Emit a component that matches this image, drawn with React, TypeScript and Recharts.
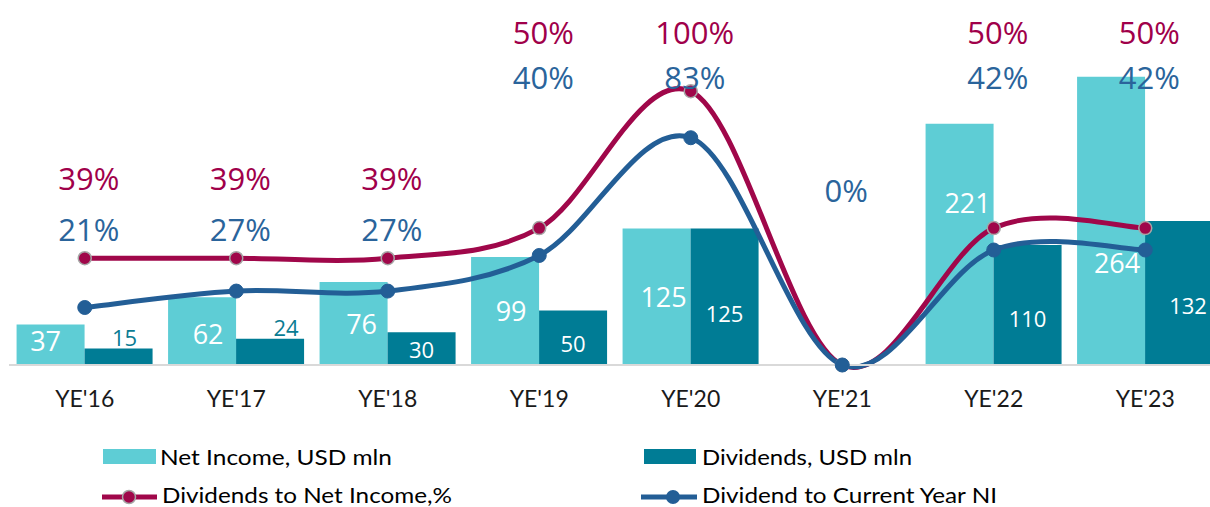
import React from 'react';
import { ComposedChart, Bar, Line, XAxis, YAxis, LabelList, Legend } from 'recharts';

const years = ["YE'16", "YE'17", "YE'18", "YE'19", "YE'20", "YE'21", "YE'22", "YE'23"];
const netIncome: (number | null)[] = [37, 62, 76, 99, 125, null, 221, 264];
const dividends: (number | null)[] = [15, 24, 30, 50, 125, null, 110, 132];
const divToNetIncome: number[] = [39, 39, 39, 50, 100, 0, 50, 50];
const divToCurrentNI: number[] = [21, 27, 27, 40, 83, 0, 42, 42];

const data = years.map((y, i) => ({
  year: y,
  ni: netIncome[i],
  div: dividends[i],
  pctNI: divToNetIncome[i],
  pctCur: divToCurrentNI[i],
}));

const C_NI = '#5ECDD5';
const C_DIV = '#007C95';
const C_PINK = '#A0074A';
const C_BLUE = '#235E96';
const C_PINK_TXT = '#A0004A';
const C_BLUE_TXT = '#2A649B';

// label nudges (text placement only), per category
const NI_DX = [-5, 6, 8, 6, 7, 0, 8, 6];
const NI_DY = [-4, 2, 0, 0, 0, 0, -42, 42];
const DIV_DX = [6, 16, 0, 0, 0, 0, 0, 9];
const DIV_DY = [0, 0, 0, 5, 16, 0, 13, 12];

// Excel-like smoothing (Catmull-Rom as cubic bezier)
function excelSmooth(context: any) {
  let pts: [number, number][] = [];
  return {
    areaStart() {},
    areaEnd() {},
    lineStart() {
      pts = [];
    },
    lineEnd() {
      const n = pts.length;
      if (!n) return;
      context.moveTo(pts[0][0], pts[0][1]);
      for (let i = 0; i < n - 1; i++) {
        const p0 = pts[Math.max(i - 1, 0)];
        const p1 = pts[i];
        const p2 = pts[i + 1];
        const p3 = pts[Math.min(i + 2, n - 1)];
        context.bezierCurveTo(
          p1[0] + (p2[0] - p0[0]) / 6,
          p1[1] + (p2[1] - p0[1]) / 6,
          p2[0] - (p3[0] - p1[0]) / 6,
          p2[1] - (p3[1] - p1[1]) / 6,
          p2[0],
          p2[1]
        );
      }
    },
    point(x: number, y: number) {
      pts.push([+x, +y]);
    },
  };
}

const NiLabel = (props: any) => {
  const { x, y, width, height, value } = props;
  if (value == null) return null;
  const k = netIncome.indexOf(value);
  return (
    <text
      x={x + width / 2 + (NI_DX[k] || 0)}
      y={y + height / 2 + (NI_DY[k] || 0)}
      textAnchor="middle"
      dominantBaseline="central"
      fill="#ffffff"
      fontSize={27}
      fontFamily="Open Sans"
    >
      {value}
    </text>
  );
};

const DivLabel = (props: any) => {
  const { x, y, width, height, value } = props;
  if (value == null) return null;
  const k = dividends.indexOf(value);
  const outside = value < 25;
  return (
    <text
      x={x + width / 2 + (DIV_DX[k] || 0)}
      y={outside ? y - 12 : y + height / 2 + (DIV_DY[k] || 0)}
      textAnchor="middle"
      dominantBaseline="central"
      fill={outside ? '#0A7C93' : '#ffffff'}
      fontSize={22}
      fontFamily="Open Sans"
    >
      {value}
    </text>
  );
};

const makePctLabel = (series: 'pink' | 'blue') => (props: any) => {
  const { x, value, index } = props;
  if (value == null) return null;
  if (series === 'pink' && value === 0) return null;
  const early = index < 3;
  let ly: number;
  if (series === 'pink') ly = early ? 178 : 32;
  else ly = value === 0 ? 190 : early ? 229 : 77;
  return (
    <text
      x={x + 4}
      y={ly}
      textAnchor="middle"
      dominantBaseline="central"
      fill={series === 'pink' ? C_PINK_TXT : C_BLUE_TXT}
      fontSize={31}
      fontFamily="Open Sans"
    >
      {value}%
    </text>
  );
};

const renderLegend = () => (
  <svg width={1210} height={72} style={{ display: 'block' }}>
    <rect x={103} y={14} width={53} height={15} fill={C_NI} />
    <text x={160} y={30} fontSize={22} fontFamily="Lato" fill="#000" textLength={232} lengthAdjust="spacingAndGlyphs">
      Net Income, USD mln
    </text>
    <rect x={644} y={14} width={52} height={15} fill={C_DIV} />
    <text x={702} y={30} fontSize={22} fontFamily="Lato" fill="#000" textLength={210} lengthAdjust="spacingAndGlyphs">
      Dividends, USD mln
    </text>
    <line x1={102} x2={157} y1={62} y2={62} stroke={C_PINK} strokeWidth={5} />
    <circle cx={129} cy={62} r={6.5} fill={C_PINK} stroke="#A6A6A6" strokeWidth={1.5} />
    <text x={162} y={68} fontSize={22} fontFamily="Lato" fill="#000" textLength={290} lengthAdjust="spacingAndGlyphs">
      Dividends to Net Income,%
    </text>
    <line x1={641} x2={697} y1={62} y2={62} stroke={C_BLUE} strokeWidth={5} />
    <circle cx={673} cy={62} r={7} fill={C_BLUE} />
    <text x={702} y={68} fontSize={22} fontFamily="Lato" fill="#000" textLength={295} lengthAdjust="spacingAndGlyphs">
      Dividend to Current Year NI
    </text>
  </svg>
);

export default function App() {
  return (
    <div
      style={{
        position: 'fixed',
        left: 0,
        top: 0,
        width: 1210,
        height: 507,
        overflow: 'hidden',
        background: '#fff',
      }}
    >
      <ComposedChart
        width={1221}
        height={507}
        data={data}
        margin={{ top: 20, right: 0, left: 9, bottom: 82 }}
        barCategoryGap="5%"
        barGap={0}
      >
        <XAxis
          dataKey="year"
          height={60}
          axisLine={{ stroke: '#D9D9D9', strokeWidth: 2 }}
          tickLine={false}
          tickMargin={20}
          interval={0}
          tick={{ fill: '#1A1A1A', fontSize: 23, fontFamily: 'Lato' }}
        />
        <YAxis yAxisId="left" hide domain={[0, 316]} />
        <YAxis yAxisId="right" hide orientation="right" domain={[0, 126]} />
        <Bar yAxisId="left" dataKey="ni" name="Net Income, USD mln" fill={C_NI} isAnimationActive={false}>
          <LabelList dataKey="ni" content={NiLabel} />
        </Bar>
        <Bar yAxisId="left" dataKey="div" name="Dividends, USD mln" fill={C_DIV} isAnimationActive={false}>
          <LabelList dataKey="div" content={DivLabel} />
        </Bar>
        <Line
          yAxisId="right"
          dataKey="pctNI"
          name="Dividends to Net Income,%"
          type={excelSmooth as any}
          stroke={C_PINK}
          strokeWidth={5}
          dot={{ r: 6.5, fill: C_PINK, stroke: '#A6A6A6', strokeWidth: 1.5 }}
          activeDot={false}
          isAnimationActive={false}
        >
          <LabelList dataKey="pctNI" content={makePctLabel('pink')} />
        </Line>
        <Line
          yAxisId="right"
          dataKey="pctCur"
          name="Dividend to Current Year NI"
          type={excelSmooth as any}
          stroke={C_BLUE}
          strokeWidth={5}
          dot={{ r: 7, fill: C_BLUE, stroke: C_BLUE, strokeWidth: 1 }}
          activeDot={false}
          isAnimationActive={false}
        >
          <LabelList dataKey="pctCur" content={makePctLabel('blue')} />
        </Line>
        <Legend
          layout="horizontal"
          verticalAlign="middle"
          align="center"
          wrapperStyle={{ left: 0, top: 435, width: 1210, height: 72 }}
          content={renderLegend}
        />
      </ComposedChart>
    </div>
  );
}
